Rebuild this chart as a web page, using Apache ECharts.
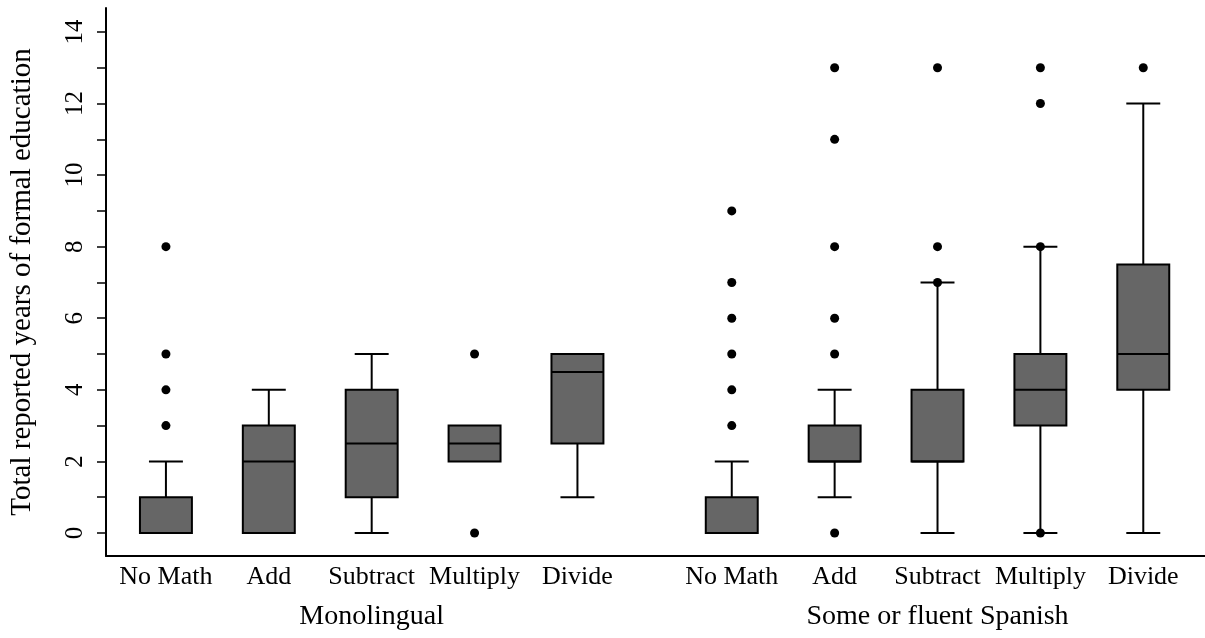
<!DOCTYPE html>
<html>
<head>
<meta charset="utf-8">
<script src="https://cdn.jsdelivr.net/npm/echarts@6/dist/echarts.min.js"></script>
<style>
html,body{margin:0;padding:0;background:#fff;}
#chart{width:1205px;height:638px;}
</style>
</head>
<body>
<div id="chart"></div>
<script>
// ---- data ----
const categories = ['No Math', 'Add', 'Subtract', 'Multiply', 'Divide',
                    'No Math', 'Add', 'Subtract', 'Multiply', 'Divide'];
const groups = ['Monolingual', 'Some or fluent Spanish'];
const groupCenters = [3, 8.5];
const positions = [1, 2, 3, 4, 5, 6.5, 7.5, 8.5, 9.5, 10.5];
const whiskerLow  = [0, 0, 0, 2, 1,   0, 1, 0, 0, 0];
const q1          = [0, 0, 1, 2, 2.5, 0, 2, 2, 3, 4];
const median      = [0, 2, 2.5, 2.5, 4.5, 0, 2, 2, 4, 5];
const q3          = [1, 3, 4, 3, 5,   1, 3, 4, 5, 7.5];
const whiskerHigh = [2, 4, 5, 3, 5,   2, 4, 7, 8, 12];
const outliers = [
  [3, 4, 5, 8],
  [],
  [],
  [0, 5],
  [],
  [3, 4, 5, 6, 7, 9],
  [0, 5, 6, 8, 11, 13],
  [7, 8, 13],
  [0, 8, 12, 13],
  [13]
];
const yTickValues = [0,1,2,3,4,5,6,7,8,9,10,11,12,13,14];
const yLabelValues = [0, 2, 4, 6, 8, 10, 12, 14];
const yTitle = 'Total reported years of formal education';

// ---- build ----
const boxData = positions.map((p, i) => [p, whiskerLow[i], q1[i], median[i], q3[i], whiskerHigh[i]]);
const outlierData = [];
outliers.forEach((arr, i) => arr.forEach(v => outlierData.push([positions[i], v])));

const FONT = 'Liberation Serif';
const chart = echarts.init(document.getElementById('chart'), null, {renderer: 'canvas'});

function renderBox(params, api) {
  const x = api.value(0);
  const lo = api.value(1), a = api.value(2), m = api.value(3), b = api.value(4), hi = api.value(5);
  const boxW = api.size([0.505, 0])[0];
  const capW = api.size([0.33, 0])[0];
  const pLo = api.coord([x, lo]), pA = api.coord([x, a]), pM = api.coord([x, m]),
        pB = api.coord([x, b]), pHi = api.coord([x, hi]);
  const cx = pA[0];
  const lineStyle = {stroke: '#000', lineWidth: 2, fill: null};
  const children = [];
  if (hi > b) {
    children.push({type: 'line', shape: {x1: cx, y1: pB[1], x2: cx, y2: pHi[1]}, style: lineStyle});
    children.push({type: 'line', shape: {x1: cx - capW / 2, y1: pHi[1], x2: cx + capW / 2, y2: pHi[1]}, style: lineStyle});
  }
  if (lo < a) {
    children.push({type: 'line', shape: {x1: cx, y1: pA[1], x2: cx, y2: pLo[1]}, style: lineStyle});
    children.push({type: 'line', shape: {x1: cx - capW / 2, y1: pLo[1], x2: cx + capW / 2, y2: pLo[1]}, style: lineStyle});
  }
  children.push({type: 'rect', shape: {x: cx - boxW / 2, y: pB[1], width: boxW, height: pA[1] - pB[1]},
                 style: {fill: '#666666', stroke: '#000', lineWidth: 2}});
  children.push({type: 'line', shape: {x1: cx - boxW / 2, y1: pM[1], x2: cx + boxW / 2, y2: pM[1]}, style: lineStyle});
  return {type: 'group', children: children};
}

const option = {
  animation: false,
  backgroundColor: '#fff',
  grid: {left: 106, right: 0, top: 8, bottom: 82, containLabel: false},
  xAxis: [{
    type: 'value',
    min: 0.4175, max: 11.1,
    splitLine: {show: false},
    axisLine: {show: true, onZero: false, lineStyle: {color: '#000', width: 2}},
    axisTick: {show: false},
    axisLabel: {
      customValues: positions,
      margin: 8,
      color: '#000', fontFamily: FONT, fontSize: 26,
      formatter: function (v) {
        const i = positions.findIndex(p => Math.abs(p - v) < 1e-6);
        return i >= 0 ? categories[i] : '';
      }
    }
  }, {
    type: 'value',
    position: 'bottom',
    min: 0.4175, max: 11.1,
    splitLine: {show: false},
    axisLine: {show: false, onZero: false},
    axisTick: {show: false},
    axisLabel: {
      customValues: groupCenters,
      margin: 47,
      color: '#000', fontFamily: FONT, fontSize: 28,
      formatter: function (v) {
        const i = groupCenters.findIndex(p => Math.abs(p - v) < 1e-6);
        return i >= 0 ? groups[i] : '';
      }
    }
  }],
  yAxis: {
    type: 'value',
    min: -0.644, max: 14.67,
    name: yTitle,
    nameLocation: 'middle',
    nameGap: 69,
    nameTextStyle: {color: '#000', fontFamily: FONT, fontSize: 29},
    splitLine: {show: false},
    axisLine: {show: true, lineStyle: {color: '#000', width: 2}},
    axisTick: {show: true, length: 9, customValues: yTickValues, lineStyle: {color: '#000', width: 1.5}},
    axisLabel: {
      customValues: yLabelValues,
      rotate: 90,
      margin: 18,
      color: '#000', fontFamily: FONT, fontSize: 25
    }
  },
  series: [{
    type: 'custom',
    xAxisIndex: 0,
    renderItem: renderBox,
    encode: {x: 0, y: [1, 2, 3, 4, 5]},
    data: boxData,
    clip: false
  }, {
    type: 'scatter',
    xAxisIndex: 0,
    symbol: 'circle',
    symbolSize: 9,
    itemStyle: {color: '#000', opacity: 1},
    data: outlierData,
    z: 5
  }]
};
chart.setOption(option);
</script>
</body>
</html>
